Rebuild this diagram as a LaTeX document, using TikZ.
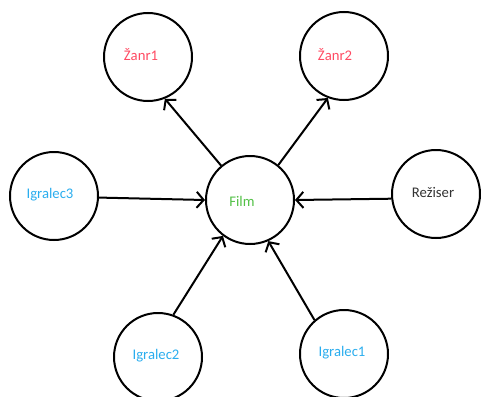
\documentclass[tikz,border=0pt]{standalone}
\usepackage{fontspec}
\setmainfont{Carlito}
\usetikzlibrary{arrows.meta}
\definecolor{genrered}{HTML}{FF4A62}
\definecolor{actorblue}{HTML}{2AADEE}
\definecolor{filmgreen}{HTML}{52C046}
\definecolor{darktext}{HTML}{333333}
\begin{document}
\begin{tikzpicture}[x=1pt,y=-1pt,
  entity/.style={circle,draw=black,line width=2pt,minimum size=88pt,inner sep=0pt},
  caption/.style={font=\fontsize{14.7}{17}\selectfont,inner sep=0pt},
  rel/.style={draw=black,line width=2pt,-{Straight Barb[length=7pt,width=16pt]}}]
  \useasboundingbox (0,0) rectangle (481,396);
  % entities
  \node[entity] (film)    at (250,200) {};
  \node[entity] (zanr1)   at (148,57)  {};
  \node[entity] (zanr2)   at (344,56)  {};
  \node[entity] (igr3)    at (54,196)  {};
  \node[entity] (reziser) at (436,194) {};
  \node[entity] (igr2)    at (158,357) {};
  \node[entity] (igr1)    at (344,354) {};
  % names
  \node[caption,text=genrered]  (t-zanr1)   at (141,55)  {Žanr1};
  \node[caption,text=genrered]  (t-zanr2)   at (335,55)  {Žanr2};
  \node[caption,text=actorblue] (t-igr3)    at (50,195)  {Igralec3};
  \node[caption,text=filmgreen] (t-film)    at (242,201) {Film};
  \node[caption,text=darktext]  (t-reziser) at (433,192) {Režiser};
  \node[caption,text=actorblue] (t-igr2)    at (156,356) {Igralec2};
  \node[caption,text=actorblue] (t-igr1)    at (342,353) {Igralec1};
  % relations
  \draw[rel] (film.130) -- (zanr1.292);
  \draw[rel] (film.51)  -- (zanr2.249);
  \draw[rel] (igr3.-2)  -- (film.180);
  \draw[rel] (reziser.186) -- (film.0);
  \draw[rel] (igr2.70)  -- (film.233);
  \draw[rel] (igr1.131) -- (film.294);
\end{tikzpicture}
\end{document}
